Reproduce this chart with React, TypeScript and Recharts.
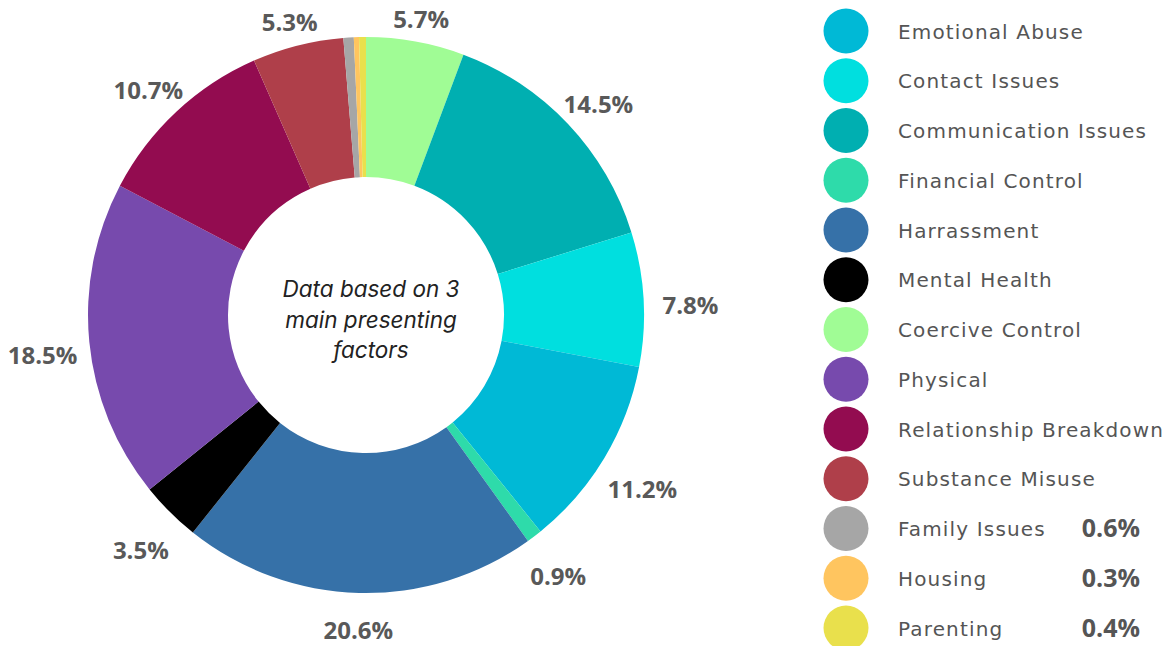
import React from "react";
import { PieChart, Pie, Cell, Legend } from "recharts";

// Legend order
const categories = [
  "Emotional Abuse",
  "Contact Issues",
  "Communication Issues",
  "Financial Control",
  "Harrassment",
  "Mental Health",
  "Coercive Control",
  "Physical",
  "Relationship Breakdown",
  "Substance Misuse",
  "Family Issues",
  "Housing",
  "Parenting",
];
const values = [11.2, 7.8, 14.5, 0.9, 20.6, 3.5, 5.7, 18.5, 10.7, 5.3, 0.6, 0.3, 0.4];
const colors = [
  "#00B9D6",
  "#00DFDF",
  "#00AFB1",
  "#2EDBAA",
  "#3671A8",
  "#000000",
  "#A0FC95",
  "#774AAD",
  "#930C50",
  "#AF3F4A",
  "#A6A6A6",
  "#FFC55F",
  "#E9E04C",
];
// Order of slices clockwise from 12 o'clock
const pieOrder = [
  "Coercive Control",
  "Communication Issues",
  "Contact Issues",
  "Emotional Abuse",
  "Financial Control",
  "Harrassment",
  "Mental Health",
  "Physical",
  "Relationship Breakdown",
  "Substance Misuse",
  "Family Issues",
  "Housing",
  "Parenting",
];
// Categories whose percentage appears in the legend instead of the chart
const legendLabelled = ["Family Issues", "Housing", "Parenting"];
const centerLines = ["Data based on 3", "main presenting", "factors"];

const pieData = pieOrder.map((name) => {
  const i = categories.indexOf(name);
  return { name, value: values[i], color: colors[i] };
});

const W = 1170;
const H = 646;
const CX = 366;
const CY = 315;
const OUTER = 278;
const INNER = 138;
const RAD = Math.PI / 180;

const renderLabel = (props: any) => {
  const { cx, cy, midAngle, outerRadius, payload, value } = props;
  if (legendLabelled.includes(payload?.name ?? props.name)) return null;
  const theta = (90 - midAngle) * RAD; // clockwise from top
  const r = outerRadius + 28 + 19 * Math.abs(Math.sin(theta));
  const x = cx + r * Math.sin(theta);
  const y = cy + 8 - r * Math.cos(theta);
  return (
    <text
      x={x}
      y={y}
      textAnchor="middle"
      dominantBaseline="central"
      fill="#595959"
      fontFamily="'Open Sans', sans-serif"
      fontWeight={700}
      fontSize={24}
    >
      {`${Number(value).toFixed(1)}%`}
    </text>
  );
};

const renderLegend = () => {
  const x0 = 846;
  const y0 = 31;
  const step = 49.75;
  return (
    <svg width={W} height={H} style={{ position: "absolute", left: 0, top: 0 }}>
      {categories.map((name, i) => {
        const yc = y0 + i * step;
        return (
          <g key={name}>
            <circle cx={x0} cy={yc} r={22.5} fill={colors[i]} />
            <text
              x={898}
              y={yc + 7.5}
              fill="#555555"
              fontFamily="'DejaVu Sans', sans-serif"
              fontSize={20}
              letterSpacing={1.15}
            >
              {name}
            </text>
            {legendLabelled.includes(name) && (
              <text
                x={1140}
                y={yc + 8.5}
                textAnchor="end"
                fill="#555555"
                fontFamily="'Open Sans', sans-serif"
                fontWeight={700}
                fontSize={25}
              >
                {`${values[i].toFixed(1)}%`}
              </text>
            )}
          </g>
        );
      })}
    </svg>
  );
};

export default function App() {
  return (
    <div style={{ position: "absolute", left: 0, top: 0, width: W, height: H, background: "#fff" }}>
      <PieChart width={W} height={H} margin={{ top: 0, right: 0, bottom: 0, left: 0 }}>
        <Pie
          data={pieData}
          dataKey="value"
          nameKey="name"
          cx={CX}
          cy={CY}
          innerRadius={INNER}
          outerRadius={OUTER}
          startAngle={90}
          endAngle={-270}
          stroke="none"
          label={renderLabel}
          labelLine={false}
          isAnimationActive={false}
        >
          {pieData.map((d) => (
            <Cell key={d.name} fill={d.color} />
          ))}
        </Pie>
        <text
          x={371}
          y={297}
          textAnchor="middle"
          fill="#222222"
          fontFamily="Inter, Roboto, sans-serif"
          fontStyle="italic"
          fontSize={22.5}
        >
          <tspan x={371} y={297}>{centerLines[0]}</tspan>
          <tspan x={371} y={328}>{centerLines[1]}</tspan>
          <tspan x={371} y={358}>{centerLines[2]}</tspan>
        </text>
        <Legend
          content={renderLegend}
          wrapperStyle={{ position: "absolute", left: 0, top: 0, width: W, height: H }}
        />
      </PieChart>
    </div>
  );
}
